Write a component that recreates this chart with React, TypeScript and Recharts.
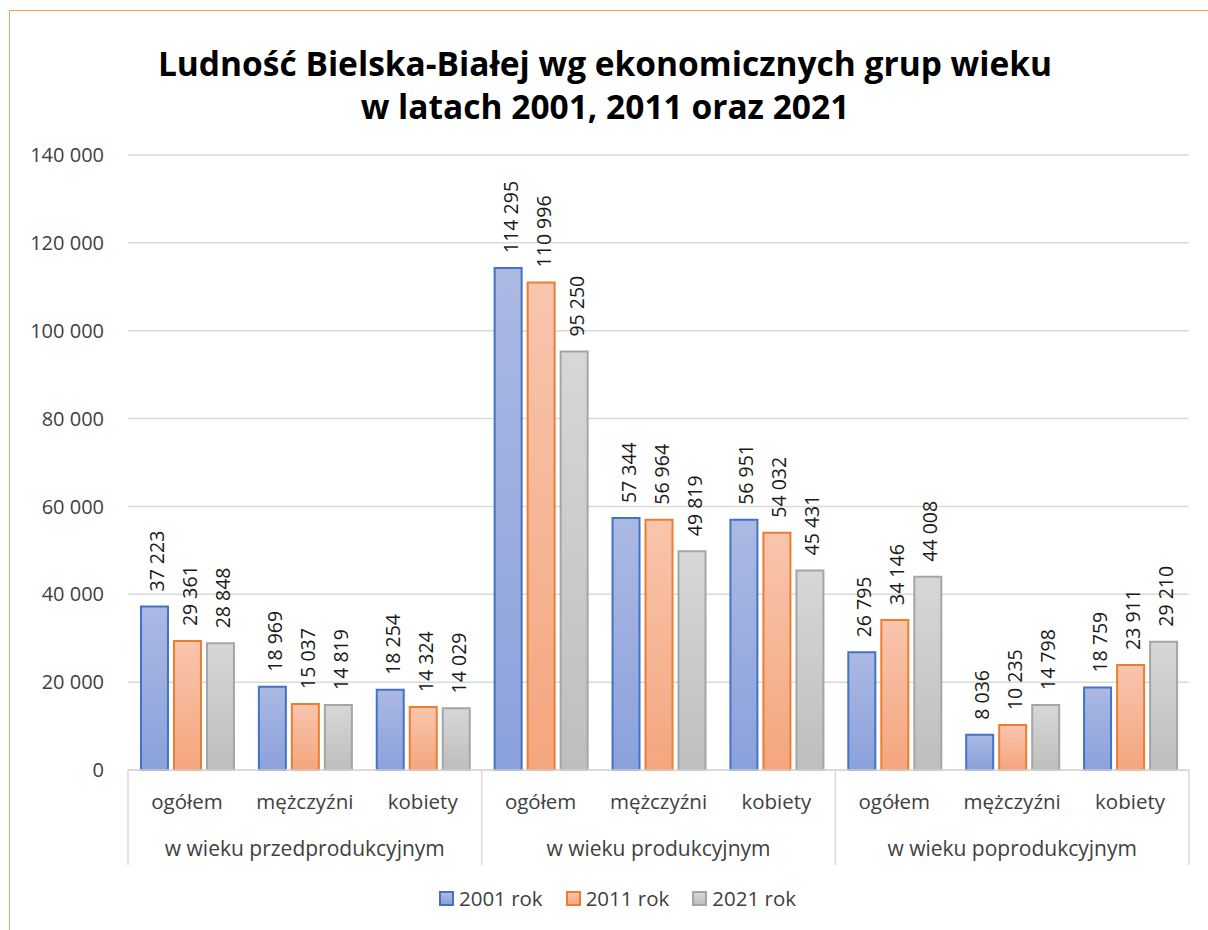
import React from 'react';
import { BarChart, Bar, XAxis, YAxis, CartesianGrid, LabelList } from 'recharts';

// ── Data ────────────────────────────────────────────────────────────────────
const categories = [
  'ogółem', 'mężczyźni', 'kobiety',
  'ogółem', 'mężczyźni', 'kobiety',
  'ogółem', 'mężczyźni', 'kobiety',
];
const groups = ['w wieku przedprodukcyjnym', 'w wieku produkcyjnym', 'w wieku poprodukcyjnym'];

const rok2001 = [37223, 18969, 18254, 114295, 57344, 56951, 26795, 8036, 18759];
const rok2011 = [29361, 15037, 14324, 110996, 56964, 54032, 34146, 10235, 23911];
const rok2021 = [28848, 14819, 14029, 95250, 49819, 45431, 44008, 14798, 29210];

const yTicks = [0, 20000, 40000, 60000, 80000, 100000, 120000, 140000];

const SERIES = [
  { key: 'y2001', name: '2001 rok', stroke: '#4472c4', top: '#abb9e2', bottom: '#8ba1dc' },
  { key: 'y2011', name: '2011 rok', stroke: '#ed7d31', top: '#f8c5ad', bottom: '#f4a67e' },
  { key: 'y2021', name: '2021 rok', stroke: '#a5a5a5', top: '#d7d7d7', bottom: '#bebebe' },
];

const data = categories.map((cat, i) => ({
  cat,
  y2001: rok2001[i],
  y2011: rok2011[i],
  y2021: rok2021[i],
}));

// ── Layout ──────────────────────────────────────────────────────────────────
const W = 1208;
const H = 930;
const MARGIN = { top: 155, right: 19, left: 28, bottom: 0 };
const Y_AXIS_W = 100;
const X_AXIS_H = 160;
const PLOT_W = W - MARGIN.left - MARGIN.right - Y_AXIS_W;
const HALF_BAND = PLOT_W / categories.length / 2;
const FONT = '"Open Sans", sans-serif';
const TEXT = '#404040';

const fmt = (v: number) => String(v).replace(/\B(?=(\d{3})+(?!\d))/g, ' ');

function CategoryTick(props: any) {
  const { x, y, payload, index } = props;
  const i = index ?? payload.index;
  const groupSize = 3;
  const pos = i % groupSize;
  const top = y - 8;
  return (
    <g>
      <text x={x} y={top + 31} textAnchor="middle" dominantBaseline="central"
        fontSize={20.5} fill={TEXT} fontFamily={FONT}>
        {payload.value}
      </text>
      {pos === 1 && (
        <text x={x} y={top + 78} textAnchor="middle" dominantBaseline="central"
          fontSize={21} fill={TEXT} fontFamily={FONT}>
          {groups[Math.floor(i / groupSize)]}
        </text>
      )}
      {pos === 0 && (
        <line x1={x - HALF_BAND} x2={x - HALF_BAND} y1={top} y2={top + 95} stroke="#d9d9d9" strokeWidth={1.5} />
      )}
      {i === categories.length - 1 && (
        <line x1={x + HALF_BAND} x2={x + HALF_BAND} y1={top} y2={top + 95} stroke="#d9d9d9" strokeWidth={1.5} />
      )}
    </g>
  );
}

function RotatedLabel(props: any) {
  const { x, y, width, value } = props;
  const cx = Number(x) + Number(width) / 2 + 2;
  const cy = Number(y) - 15;
  return (
    <text x={cx} y={cy} transform={`rotate(-90 ${cx} ${cy})`} textAnchor="start"
      dominantBaseline="central" fontSize={19.5} fill="#1a1a1a" fontFamily={FONT}>
      {fmt(Number(value))}
    </text>
  );
}

export default function App() {
  return (
    <div style={{ position: 'fixed', left: 0, top: 0, width: W, height: H, overflow: 'hidden', background: '#fff', fontFamily: FONT }}>
      <div style={{
        position: 'absolute', left: 9, top: 10, width: W + 20, height: H + 20,
        borderLeft: '1.5px solid #f5a15c', borderTop: '1.5px solid #f5a15c',
      }} />
      <div style={{
        position: 'absolute', left: 0, top: 42, width: 1210, textAlign: 'center',
        fontSize: 33.5, fontWeight: 700, lineHeight: '43px', color: '#000',
      }}>
        Ludność Bielska-Białej wg ekonomicznych grup wieku<br />w latach 2001, 2011 oraz 2021
      </div>
      <div style={{ position: 'absolute', left: 0, top: 0 }}>
        <BarChart width={W} height={H} data={data} margin={MARGIN} barCategoryGap="11%" barGap={6}>
          <defs>
            {SERIES.map((s) => (
              <linearGradient key={s.key} id={`grad-${s.key}`} x1="0" y1="0" x2="0" y2="1">
                <stop offset="0%" stopColor={s.top} />
                <stop offset="100%" stopColor={s.bottom} />
              </linearGradient>
            ))}
          </defs>
          <CartesianGrid vertical={false} stroke="#d9d9d9" strokeWidth={1.5} />
          <XAxis dataKey="cat" interval={0} height={X_AXIS_H} tickLine={false}
            axisLine={{ stroke: '#d9d9d9', strokeWidth: 1.5 }} tick={<CategoryTick />} />
          <YAxis domain={[0, 140000]} ticks={yTicks} width={Y_AXIS_W} axisLine={false} tickLine={false}
            tickMargin={18} tickFormatter={fmt}
            tick={{ fontSize: 20, fill: TEXT, fontFamily: FONT }} />
          {SERIES.map((s) => (
            <Bar key={s.key} dataKey={s.key} name={s.name} fill={`url(#grad-${s.key})`}
              stroke={s.stroke} strokeWidth={2} isAnimationActive={false}>
              <LabelList dataKey={s.key} content={<RotatedLabel />} />
            </Bar>
          ))}
        </BarChart>
      </div>
      <div style={{
        position: 'absolute', left: 0, top: 884, width: 1235, display: 'flex',
        justifyContent: 'center', alignItems: 'center', fontSize: 20.5, color: TEXT,
      }}>
        {SERIES.map((s, i) => (
          <div key={s.key} style={{ display: 'flex', alignItems: 'center', marginLeft: i ? 23 : 0 }}>
            <span style={{
              display: 'inline-block', width: 11, height: 11, marginRight: 5,
              border: `2px solid ${s.stroke}`,
              background: `linear-gradient(${s.top}, ${s.bottom})`,
            }} />
            <span>{s.name}</span>
          </div>
        ))}
      </div>
    </div>
  );
}
